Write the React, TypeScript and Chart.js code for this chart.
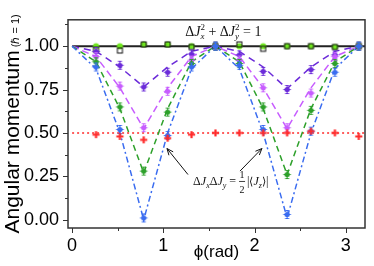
import React, { useEffect, useRef } from "react";
import { Chart, registerables } from "chart.js";
Chart.register(...registerables);

// phase angle samples (k*pi/12)
const phi = [0, 0.262, 0.524, 0.785, 1.047, 1.309, 1.571, 1.833, 2.094, 2.356, 2.618, 2.88, 3.142];

// theoretical curves
const purpleFit = [1.0, 0.97, 0.88, 0.765, 0.88, 0.97, 1.0, 0.97, 0.88, 0.755, 0.88, 0.97, 1.0];
const magentaFit = [1.0, 0.94, 0.76, 0.525, 0.76, 0.94, 1.0, 0.94, 0.76, 0.525, 0.76, 0.94, 1.0];
const greenFit = [1.0, 0.91, 0.64, 0.27, 0.64, 0.91, 1.0, 0.91, 0.64, 0.26, 0.64, 0.91, 1.0];
const blueFit = [1.0, 0.87, 0.5, 0.0, 0.5, 0.87, 1.0, 0.87, 0.5, 0.01, 0.5, 0.87, 1.0];

// measured points
const purplePts = [null, 0.97, 0.89, 0.765, 0.85, 0.955, 1.0, 0.95, 0.855, 0.75, 0.865, 0.95, 1.0];
const magentaPts = [null, 0.94, 0.77, 0.53, 0.74, 0.92, 1.0, 0.92, 0.76, 0.53, 0.73, 0.94, 1.0];
const greenPts = [null, 0.91, 0.65, 0.28, 0.62, 0.9, 1.0, 0.9, 0.65, 0.26, 0.63, 0.9, 1.0];
const bluePts = [null, 0.88, 0.52, 0.01, 0.485, 0.88, 1.0, 0.89, 0.52, 0.03, 0.51, 0.85, 1.0];
const redPts = [null, 0.49, 0.48, 0.46, 0.47, 0.49, 0.5, 0.5, 0.5, 0.5, 0.51, 0.5, 0.48];
const sumSqPts = [null, 0.98, 0.975, 1.01, 1.01, 0.995, 1.0, 1.01, 0.985, 1.0, 1.0, 0.995, 1.0];
const limePts = [null, 1.0, 1.0, 1.01, 1.01, 1.0, 1.0, 1.0, 1.0, 1.0, 1.0, 0.995, 1.0];

// reference lines
const refX = [0, 3.21];
const sumLine = [1, 1];
const halfLine = [0.5, 0.5];

const xTicks = [0, 1, 2, 3];
const yTicks = [0, 0.25, 0.5, 0.75, 1.0];

const C = {
  purple: "#6b2bd9",
  magenta: "#c75cff",
  green: "#2da02a",
  lime: "#6fe61e",
  blue: "#3a6cf0",
  red: "#ff2a2a",
  black: "#222222",
};

const pts = (ys: (number | null)[]) => phi.map((x, i) => ({ x, y: ys[i] }));

function marker(kind: string, color: string): HTMLCanvasElement {
  const c = document.createElement("canvas");
  c.width = 11;
  c.height = 11;
  const g = c.getContext("2d")!;
  const m = 5.5;
  if (kind === "circ") {
    g.strokeStyle = color;
    g.lineWidth = 1;
    g.beginPath();
    g.moveTo(m, 1.5); g.lineTo(m, 9.5);
    g.moveTo(m - 2, 1.5); g.lineTo(m + 2, 1.5);
    g.moveTo(m - 2, 9.5); g.lineTo(m + 2, 9.5);
    g.moveTo(m - 3.8, m); g.lineTo(m + 3.8, m);
    g.stroke();
    g.fillStyle = color;
    g.beginPath();
    g.arc(m, m, 2.6, 0, Math.PI * 2);
    g.fill();
  } else if (kind === "plus") {
    g.strokeStyle = color;
    g.lineWidth = 2.2;
    g.beginPath();
    g.moveTo(m - 3.6, m); g.lineTo(m + 3.6, m);
    g.moveTo(m, m - 3.6); g.lineTo(m, m + 3.6);
    g.stroke();
  } else if (kind === "sq") {
    g.strokeStyle = color;
    g.lineWidth = 1;
    g.strokeRect(m - 2.5, m - 2.5, 5, 5);
  } else if (kind === "dot") {
    g.fillStyle = color;
    g.beginPath();
    g.arc(m, m, 3.1, 0, Math.PI * 2);
    g.fill();
  }
  return c;
}

type Part = { t: string; f: string; dy?: number; stack?: boolean };
function rich(ctx: CanvasRenderingContext2D, x: number, y: number, parts: Part[]) {
  let cx = x;
  let prevW = 0;
  for (const p of parts) {
    ctx.font = p.f;
    const w = ctx.measureText(p.t).width;
    if (p.stack) {
      ctx.fillText(p.t, cx - prevW, y + (p.dy || 0));
      cx += Math.max(0, w - prevW);
      prevW = 0;
    } else {
      ctx.fillText(p.t, cx, y + (p.dy || 0));
      cx += w;
      prevW = w;
    }
  }
  return cx;
}

function arrow(ctx: CanvasRenderingContext2D, x0: number, y0: number, x1: number, y1: number) {
  ctx.beginPath();
  ctx.moveTo(x0, y0);
  ctx.lineTo(x1, y1);
  ctx.stroke();
  const a = Math.atan2(y1 - y0, x1 - x0);
  const L = 7;
  ctx.beginPath();
  ctx.moveTo(x1 - L * Math.cos(a - 0.4), y1 - L * Math.sin(a - 0.4));
  ctx.lineTo(x1, y1);
  ctx.lineTo(x1 - L * Math.cos(a + 0.4), y1 - L * Math.sin(a + 0.4));
  ctx.stroke();
}

export default function App() {
  const ref = useRef<HTMLCanvasElement>(null);
  useEffect(() => {
    const SERIF = "'Liberation Serif'";
    const it = (s: number) => `italic ${s}px ${SERIF}`;
    const rm = (s: number) => `${s}px ${SERIF}`;

    const deco = {
      id: "deco",
      afterDraw(chart: any) {
        const ctx = chart.ctx as CanvasRenderingContext2D;
        const a = chart.chartArea;
        const xs = chart.scales.x;
        const ys = chart.scales.y;
        ctx.save();
        // frame
        ctx.strokeStyle = "#333";
        ctx.lineWidth = 1.5;
        ctx.strokeRect(a.left, a.top, a.right - a.left, a.bottom - a.top);
        // ticks
        ctx.lineWidth = 1;
        ctx.beginPath();
        for (let v = 0; v <= 3.01; v += 0.5) {
          const px = Math.round(xs.getPixelForValue(v)) + 0.5;
          const len = Math.abs(v - Math.round(v)) < 1e-6 ? 5 : 3;
          ctx.moveTo(px, a.bottom);
          ctx.lineTo(px, a.bottom + len);
        }
        for (let v = 0; v <= 1.13; v += 0.125) {
          const py = Math.round(ys.getPixelForValue(v)) + 0.5;
          const len = Math.abs(v / 0.25 - Math.round(v / 0.25)) < 1e-6 ? 5 : 3;
          ctx.moveTo(a.left, py);
          ctx.lineTo(a.left - len, py);
        }
        ctx.stroke();

        // axis titles
        ctx.fillStyle = "#000";
        ctx.textBaseline = "alphabetic";
        ctx.font = "17px 'Liberation Sans'";
        ctx.textAlign = "center";
        ctx.fillText("ϕ(rad)", (a.left + a.right) / 2, 257);
        ctx.textAlign = "left";
        ctx.save();
        const big = "Angular momentum";
        const small = " (ℏ = 1)";
        ctx.font = "21px 'Liberation Sans'";
        const wb = ctx.measureText(big).width;
        ctx.font = "11px 'Liberation Sans'";
        const wsm = ctx.measureText(small).width;
        ctx.translate(19, (a.top + a.bottom) / 2);
        ctx.rotate(-Math.PI / 2);
        const sx = -(wb + wsm) / 2;
        ctx.font = "21px 'Liberation Sans'";
        ctx.fillText(big, sx, 0);
        ctx.font = "11px 'Liberation Sans'";
        ctx.fillText(small, sx + wb, 0);
        ctx.restore();

        // annotations
        ctx.fillStyle = "#111";
        const x1 = xs.getPixelForValue(1.24);
        const y1 = ys.getPixelForValue(1.058);
        rich(ctx, x1, y1, [
          { t: "Δ", f: rm(14) },
          { t: "J", f: it(14) },
          { t: "x", f: it(9), dy: 3 },
          { t: "2", f: rm(9), dy: -6, stack: true },
          { t: " + Δ", f: rm(14) },
          { t: "J", f: it(14) },
          { t: "y", f: it(9), dy: 3 },
          { t: "2", f: rm(9), dy: -6, stack: true },
          { t: " = 1", f: rm(14) },
        ]);
        const x2 = xs.getPixelForValue(1.326);
        const y2 = ys.getPixelForValue(0.2);
        const cx = rich(ctx, x2, y2, [
          { t: "Δ", f: rm(12) },
          { t: "J", f: it(12) },
          { t: "x", f: it(8), dy: 3 },
          { t: "Δ", f: rm(12) },
          { t: "J", f: it(12) },
          { t: "y", f: it(8), dy: 3 },
          { t: " = ", f: rm(12) },
        ]);
        ctx.font = rm(10);
        ctx.textAlign = "center";
        ctx.fillText("1", cx + 3, y2 - 7);
        ctx.fillText("2", cx + 3, y2 + 8);
        ctx.fillRect(cx, y2 - 4, 6, 0.8);
        ctx.textAlign = "left";
        rich(ctx, cx + 8, y2, [
          { t: "|", f: rm(12) },
          { t: "⟨", f: rm(11) },
          { t: "J", f: it(12) },
          { t: "z", f: it(8), dy: 3 },
          { t: "⟩", f: rm(11) },
          { t: "|", f: rm(12) },
        ]);
        ctx.strokeStyle = "#111";
        ctx.lineWidth = 1;
        arrow(ctx, xs.getPixelForValue(1.27), ys.getPixelForValue(0.26), xs.getPixelForValue(1.04), ys.getPixelForValue(0.41));
        arrow(ctx, xs.getPixelForValue(1.84), ys.getPixelForValue(0.28), xs.getPixelForValue(2.08), ys.getPixelForValue(0.41));
        ctx.restore();
      },
    };

    const fitLine = (ys: number[], color: string, dash: number[]) => ({
      type: "line" as const,
      data: pts(ys),
      borderColor: color,
      borderWidth: 1.5,
      borderDash: dash,
      pointRadius: 0,
      fill: false,
      tension: 0,
    });
    const scatter = (ys: (number | null)[], img: HTMLCanvasElement) => ({
      type: "line" as const,
      data: pts(ys),
      showLine: false,
      pointStyle: img,
      pointRadius: 5,
      borderColor: "transparent",
      backgroundColor: "transparent",
    });

    const chart = new Chart(ref.current!, {
      type: "line",
      data: {
        datasets: [
          scatter(redPts, marker("plus", C.red)),
          scatter(bluePts, marker("circ", C.blue)),
          scatter(greenPts, marker("circ", C.green)),
          scatter(magentaPts, marker("circ", C.magenta)),
          scatter(purplePts, marker("circ", C.purple)),
          scatter(sumSqPts, marker("sq", "#111")),
          scatter(limePts, marker("dot", C.lime)),
          fitLine(blueFit, C.blue, [6, 3, 2, 3]),
          fitLine(greenFit, C.green, [6, 4]),
          fitLine(magentaFit, C.magenta, [7, 4]),
          fitLine(purpleFit, C.purple, [7, 5]),
          { ...fitLine(halfLine, C.red, [2, 3]), data: refX.map((x, i) => ({ x, y: halfLine[i] })) },
          { ...fitLine(sumLine, C.black, []), borderWidth: 2, data: refX.map((x, i) => ({ x, y: sumLine[i] })) },
        ] as any,
      },
      options: {
        responsive: false,
        animation: false,
        layout: { padding: { top: 5, right: 9, left: 0, bottom: 0 } },
        plugins: { legend: { display: false }, tooltip: { enabled: false } },
        scales: {
          x: {
            type: "linear",
            min: -0.045,
            max: 3.21,
            afterBuildTicks: (s: any) => {
              s.ticks = xTicks.map((v) => ({ value: v }));
            },
            afterFit: (s: any) => {
              s.height = 38;
            },
            grid: { display: false, drawTicks: false },
            border: { display: false },
            ticks: {
              font: { family: "'Liberation Sans'", size: 18 },
              color: "#000",
              padding: 7,
              maxRotation: 0,
              callback: (v: any) => String(v),
            },
          },
          y: {
            type: "linear",
            min: -0.048,
            max: 1.152,
            afterBuildTicks: (s: any) => {
              s.ticks = yTicks.map((v) => ({ value: v }));
            },
            afterFit: (s: any) => {
              s.width = 68;
            },
            grid: { display: false, drawTicks: false },
            border: { display: false },
            ticks: {
              font: { family: "'Liberation Sans'", size: 18 },
              color: "#000",
              padding: 9,
              callback: (v: any) => Number(v).toFixed(2),
            },
          },
        },
      },
      plugins: [deco],
    });
    return () => chart.destroy();
  }, []);
  return (
    <canvas
      ref={ref}
      width={374}
      height={266}
      style={{ position: "absolute", left: 0, top: 0, width: 374, height: 266 }}
    />
  );
}
